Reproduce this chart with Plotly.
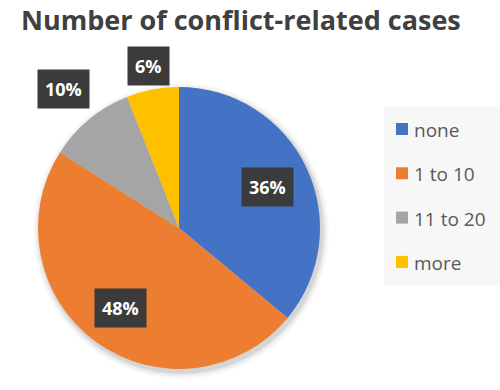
import math
import plotly.graph_objects as go

categories = ["none", "1 to 10", "11 to 20", "more"]
values = [36, 48, 10, 6]
colors = ["#4472C4", "#ED7D31", "#A5A5A5", "#FFC000"]
title_text = "Number of conflict-related cases"

# label distance from centre as fraction of radius (style)
label_radius = [0.69, 0.70, 1.28, 1.17]

W, H = 500, 390
cx, cy, r = 179, 228, 141  # pixel centre / radius of pie

fig = go.Figure()
fig.add_trace(go.Pie(
    labels=categories, values=values, sort=False, direction="clockwise",
    rotation=0, marker=dict(colors=colors, line=dict(width=0)),
    textinfo="none", hoverinfo="label+percent", showlegend=False,
    domain=dict(x=[(cx - r) / W, (cx + r) / W], y=[1 - (cy + r) / H, 1 - (cy - r) / H]),
))

shapes = []
# soft shadow behind the pie
for grow, op in [(7, 0.025), (5, 0.035), (3, 0.05), (1.5, 0.06)]:
    shapes.append(dict(type="circle", xref="paper", yref="paper", layer="below",
                       x0=(cx - r - grow + 2) / W, x1=(cx + r + grow + 2) / W,
                       y0=1 - (cy + r + grow + 3) / H, y1=1 - (cy - r - grow + 3) / H,
                       fillcolor=f"rgba(0,0,0,{op})", line=dict(width=0)))

annotations = []
total = sum(values)
cum = 0
for v, lr in zip(values, label_radius):
    mid = (cum + v / 2) / total * 2 * math.pi
    cum += v
    px = cx + lr * r * math.sin(mid)
    py = cy - lr * r * math.cos(mid)
    pct = f"{round(v / total * 100)}%"
    annotations.append(dict(x=px / W, y=1 - py / H, xref="paper", yref="paper",
                            text=f"<b>{pct}</b>", showarrow=False, bgcolor="#3b3b3b",
                            font=dict(family="Open Sans", size=18, color="white"),
                            borderpad=7, xanchor="center", yanchor="middle"))

# legend (manual)
lx0, ly0, ly1 = 384, 107, 285
shapes.append(dict(type="rect", xref="paper", yref="paper", x0=lx0 / W, x1=1.0,
                   y0=1 - ly1 / H, y1=1 - ly0 / H, fillcolor="#f7f7f7", line=dict(width=0),
                   layer="below"))
item_y0, item_gap = 129, 44.3
for i, (cat, col) in enumerate(zip(categories, colors)):
    yy = item_y0 + i * item_gap
    shapes.append(dict(type="rect", xref="paper", yref="paper",
                       x0=396 / W, x1=408 / W, y0=1 - (yy + 6) / H, y1=1 - (yy - 6) / H,
                       fillcolor=col, line=dict(width=0)))
    annotations.append(dict(x=412 / W, y=1 - (yy + 1) / H, xref="paper", yref="paper",
                            text=cat, showarrow=False, xanchor="left", yanchor="middle",
                            font=dict(family="Open Sans", size=19, color="#595959")))

# title
annotations.append(dict(x=241 / W, y=1 - 19 / H, xref="paper", yref="paper",
                        text=f"<b>{title_text}</b>", showarrow=False,
                        xanchor="center", yanchor="middle",
                        font=dict(family="Open Sans", size=27, color="#404040")))

fig.update_layout(width=W, height=H, margin=dict(l=0, r=0, t=0, b=0),
                  paper_bgcolor="white", plot_bgcolor="white",
                  shapes=shapes, annotations=annotations)
fig.write_html("out.html", config={"displayModeBar": False},
               post_script="document.body.style.margin='0';")
